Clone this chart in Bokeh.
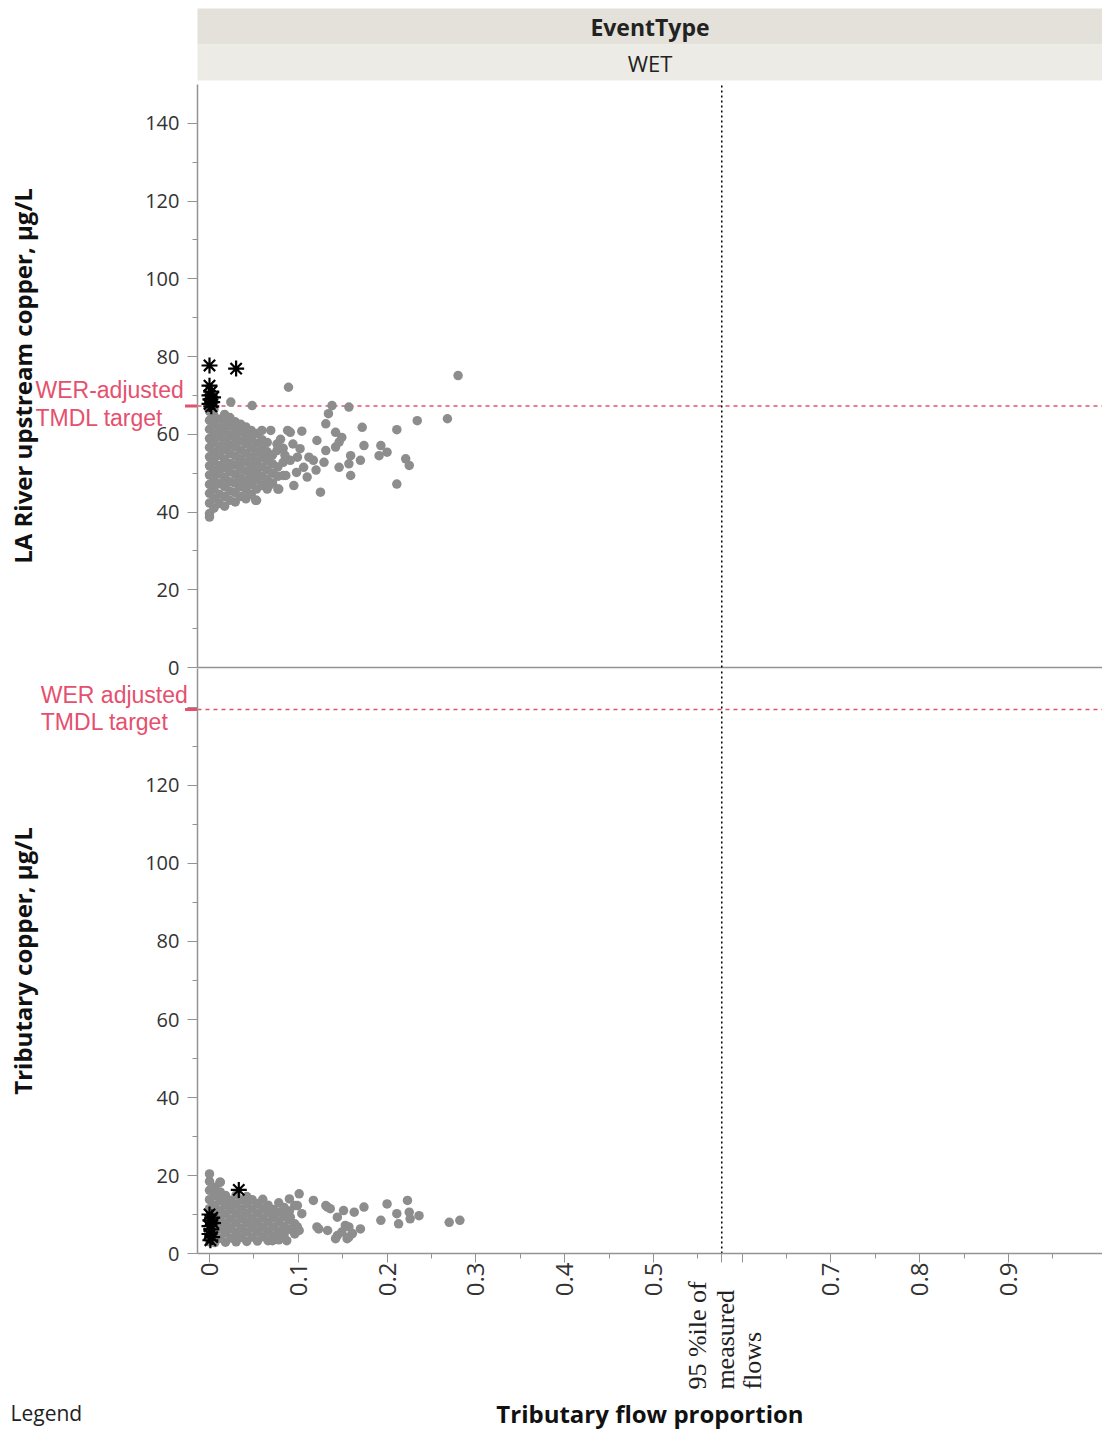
import math
from bokeh.plotting import figure
from bokeh.models import FixedTicker, LinearAxis, Range1d
from bokeh.core.properties import value
from bokeh.embed import file_html
from bokeh.resources import INLINE

# ---------------------------------------------------------------- data
header_title = "EventType"
header_level = "WET"

upper_axis_title = "LA River upstream copper, µg/L"
lower_axis_title = "Tributary copper, µg/L"
x_axis_title = "Tributary flow proportion"
target_upper_text = ["WER-adjusted", "TMDL target"]
target_lower_text = ["WER adjusted", "TMDL target"]
p95_text = ["95 %ile of", "measured", "flows"]
legend_text = "Legend"

upper_target = 67.3      # WER-adjusted TMDL target, LA River panel
lower_target = 139.5     # WER adjusted TMDL target, tributary panel
flow_p95 = 0.577         # 95th percentile of measured flows

x_tick_values = [0.0, 0.1, 0.2, 0.3, 0.4, 0.5, 0.6, 0.7, 0.8, 0.9]
x_tick_labels = ["0", "0.1", "0.2", "0.3", "0.4", "0.5", "", "0.7", "0.8", "0.9"]
x_minor_ticks = [0.05, 0.15, 0.25, 0.35, 0.45, 0.55, 0.65, 0.75, 0.85, 0.95]
upper_y_ticks = [0, 20, 40, 60, 80, 100, 120, 140]
upper_y_minor = [10, 30, 50, 70, 90, 110, 130]
lower_y_ticks = [0, 20, 40, 60, 80, 100, 120, 140]
lower_y_labels = ["0", "20", "40", "60", "80", "100", "120", ""]
lower_y_minor = [10, 30, 50, 70, 90, 110, 130]

# LA River upstream copper vs tributary flow proportion (WET events)
upper_dot_x = [
    0.000, 0.000, 0.000, 0.000, 0.000, 0.000, 0.000, 0.000, 0.000, 0.000, 0.000, 0.000,
    0.005, 0.005, 0.005, 0.005, 0.005, 0.005, 0.005, 0.005, 0.005, 0.005, 0.005, 0.005,
    0.011, 0.011, 0.011, 0.011, 0.011, 0.011, 0.011, 0.011, 0.011, 0.011,
    0.017, 0.017, 0.017, 0.017, 0.017, 0.017, 0.017, 0.017, 0.017, 0.017, 0.017,
    0.023, 0.023, 0.023, 0.023, 0.023, 0.023, 0.023, 0.023, 0.023, 0.023, 0.024,
    0.029, 0.029, 0.029, 0.029, 0.029, 0.029, 0.029, 0.029, 0.029, 0.029,
    0.035, 0.035, 0.035, 0.035, 0.035, 0.035, 0.035, 0.035, 0.035,
    0.041, 0.041, 0.041, 0.041, 0.041, 0.041, 0.041, 0.041, 0.041,
    0.047, 0.047, 0.047, 0.047, 0.047, 0.047, 0.047, 0.047, 0.048,
    0.053, 0.053, 0.053, 0.053, 0.053, 0.053, 0.053, 0.053,
    0.059, 0.059, 0.059, 0.059, 0.059, 0.059, 0.059,
    0.065, 0.065, 0.065, 0.065, 0.065, 0.065,
    0.071, 0.071, 0.071, 0.071, 0.069,
    0.077, 0.077, 0.077, 0.076,
    0.083, 0.083, 0.083,
    0.280, 0.089, 0.138, 0.157, 0.134, 0.131, 0.234, 0.268, 0.104, 0.172,
    0.211, 0.091, 0.121, 0.142, 0.149, 0.146, 0.142, 0.131, 0.174, 0.193,
    0.200, 0.191, 0.221, 0.225, 0.102, 0.099, 0.112, 0.117, 0.106, 0.129,
    0.159, 0.157, 0.170, 0.146, 0.159, 0.091, 0.095, 0.125, 0.211, 0.078,
    0.086, 0.052, 0.088, 0.080, 0.094, 0.085, 0.098, 0.110, 0.120, 0.067,
    0.076, 0.000,
]
upper_dot_y = [
    39.6, 42.3, 44.8, 47.1, 49.5, 51.9, 54.2, 56.6, 58.9, 61.3, 63.6, 65.9,
    41.0, 43.5, 46.0, 48.4, 50.7, 53.1, 55.4, 57.8, 60.1, 62.5, 64.8, 66.4,
    42.2, 44.6, 47.3, 49.8, 52.0, 54.6, 56.9, 59.3, 61.5, 63.9,
    41.5, 44.0, 46.5, 48.9, 51.3, 53.6, 56.0, 58.4, 60.8, 63.0, 65.1,
    43.0, 45.4, 47.8, 50.3, 52.5, 55.0, 57.3, 59.7, 62.1, 64.3, 68.3,
    42.6, 45.0, 47.4, 49.7, 52.1, 54.4, 56.8, 59.1, 61.4, 63.2,
    44.0, 46.5, 48.8, 51.2, 53.5, 55.9, 58.3, 60.6, 62.6,
    43.4, 45.8, 48.1, 50.5, 52.9, 55.2, 57.6, 59.9, 61.9,
    44.5, 47.0, 49.4, 51.7, 54.1, 56.5, 58.8, 61.0, 67.4,
    43.0, 45.9, 48.3, 50.6, 53.0, 55.4, 57.7, 60.2,
    46.8, 49.2, 51.6, 54.0, 56.3, 58.6, 61.0,
    45.9, 48.4, 50.8, 53.2, 55.5, 57.9,
    47.5, 50.0, 52.4, 54.7, 61.0,
    45.9, 49.2, 51.6, 55.8,
    49.4, 52.8, 56.4,
    75.1, 72.1, 67.4, 67.0, 65.3, 62.7, 63.5, 64.0, 60.8, 61.8,
    61.2, 60.5, 58.4, 60.5, 59.2, 58.0, 56.7, 55.8, 57.1, 57.1,
    55.4, 54.5, 53.7, 52.0, 56.3, 54.1, 54.1, 53.3, 51.5, 52.8,
    54.5, 52.4, 53.3, 51.5, 49.4, 53.3, 46.8, 45.1, 47.2, 45.9,
    49.4, 43.0, 61.0, 58.7, 57.5, 54.6, 50.2, 49.0, 50.8, 46.8,
    57.5, 38.7,
]
upper_star_x = [0.000, 0.030, 0.000, 0.002, 0.000, 0.004, 0.001, 0.003, 0.000, 0.002]
upper_star_y = [77.7, 76.9, 72.5, 71.0, 70.0, 69.5, 69.0, 68.3, 67.8, 67.2]

# Tributary copper vs tributary flow proportion (WET events)
lower_dot_x = [
    0.000, 0.000, 0.000, 0.000, 0.000, 0.000, 0.000, 0.000,
    0.006, 0.006, 0.006, 0.006, 0.006, 0.006, 0.006,
    0.012, 0.012, 0.012, 0.012, 0.012, 0.012, 0.012,
    0.018, 0.018, 0.018, 0.018, 0.018, 0.018,
    0.024, 0.024, 0.024, 0.024, 0.024,
    0.030, 0.030, 0.030, 0.030, 0.030, 0.030,
    0.036, 0.036, 0.036, 0.036, 0.036,
    0.042, 0.042, 0.042, 0.042, 0.042, 0.042,
    0.048, 0.048, 0.048, 0.048, 0.048,
    0.054, 0.054, 0.054, 0.054, 0.054,
    0.060, 0.060, 0.060, 0.060, 0.060,
    0.066, 0.066, 0.066, 0.066, 0.066,
    0.072, 0.072, 0.072, 0.072,
    0.078, 0.078, 0.078, 0.078, 0.078,
    0.084, 0.084, 0.084, 0.084,
    0.090, 0.090, 0.090, 0.090,
    0.096, 0.096, 0.096,
    0.012, 0.101, 0.117, 0.133, 0.151, 0.163, 0.174, 0.200, 0.223, 0.225,
    0.211, 0.236, 0.193, 0.213, 0.270, 0.282, 0.144, 0.153, 0.123, 0.133,
    0.144, 0.157, 0.170, 0.101, 0.087, 0.071, 0.099, 0.131, 0.136, 0.226,
    0.149, 0.157, 0.161, 0.142, 0.155, 0.104, 0.121, 0.091, 0.099,
]
lower_dot_y = [
    3.0, 5.5, 8.0, 11.5, 13.8, 16.2, 18.5, 20.4,
    2.8, 5.2, 7.6, 10.0, 12.4, 14.8, 17.0,
    3.9, 6.3, 8.7, 11.1, 13.5, 15.8, 18.3,
    2.9, 5.3, 7.7, 10.1, 12.5, 14.9,
    4.0, 6.4, 8.8, 11.2, 13.6,
    3.0, 5.4, 7.8, 10.2, 12.6, 15.0,
    4.1, 6.5, 8.9, 11.3, 13.7,
    3.1, 5.5, 7.9, 10.3, 12.7, 14.6,
    4.2, 6.6, 9.0, 11.4, 13.8,
    3.2, 5.6, 8.0, 10.4, 12.8,
    4.3, 6.7, 9.1, 11.5, 13.9,
    3.3, 5.7, 8.1, 10.5, 12.4,
    4.4, 6.8, 9.2, 11.3,
    3.5, 5.8, 8.2, 10.6, 13.0,
    4.8, 7.0, 9.4, 11.8,
    6.2, 8.6, 10.9, 14.0,
    5.0, 7.6, 12.3,
    18.3, 15.3, 13.6, 11.9, 11.0, 10.6, 11.9, 12.7, 13.6, 10.6,
    10.2, 9.7, 8.5, 7.6, 8.0, 8.5, 9.3, 7.2, 6.3, 5.9,
    4.6, 4.2, 6.3, 5.9, 3.3, 3.3, 12.3, 12.3, 11.5, 8.9,
    5.5, 6.8, 5.1, 3.8, 3.8, 10.2, 6.8, 9.3, 6.8,
]
lower_star_x = [0.033, 0.000, 0.003, 0.001, 0.004, 0.000, 0.002, 0.000, 0.003, 0.001]
lower_star_y = [16.3, 10.0, 9.2, 8.5, 7.8, 7.0, 6.2, 5.0, 4.2, 3.4]

# ---------------------------------------------------------------- layout constants
PAGE_W, PAGE_H = 1102, 1431
DOT = "#8d8d8d"
RED = "#e5506e"
AXIS = "#939393"
INK = "#222222"
SANS = "Open Sans"

X0, X1 = -0.01352, 1.00586          # extent of the plotting axes
XL = -0.23541                        # left page edge in x units

# One frame covers the whole page; the upper panel uses the default y range,
# the lower panel the "lower" range.
p = figure(frame_width=PAGE_W, frame_height=PAGE_H,
           x_range=Range1d(XL, X1), y_range=Range1d(-196.55, 171.60),
           min_border_left=0, min_border_right=0,
           min_border_top=0, min_border_bottom=0,
           x_axis_location=None, y_axis_location=None,
           toolbar_location=None, output_backend="svg",
           outline_line_color=None, background_fill_color="white")
p.extra_y_ranges = {"lower": Range1d(-45.64, 321.28)}
p.xgrid.visible = False
p.ygrid.visible = False

# ---------------------------------------------------------------- header strip
p.quad(left=[X0], right=[X1], bottom=[160.28], top=[169.54],
       fill_color="#e3e1d9", line_color=None)
p.quad(left=[X0], right=[X1], bottom=[151.02], top=[160.28],
       fill_color="#ecebe5", line_color=None)
p.text(x=[(X0 + X1) / 2], y=[164.9], text=[header_title], text_align="center",
       text_baseline="middle", text_font=value(SANS),
       text_font_style="bold", text_font_size="23px", text_color=INK)
p.text(x=[(X0 + X1) / 2], y=[155.6], text=[header_level], text_align="center",
       text_baseline="middle", text_font=value(SANS),
       text_font_size="22px", text_color=INK)


# ---------------------------------------------------------------- axes
def y_axis(ticks, minor, range_name, labels=None):
    ax = LinearAxis(fixed_location=X0, y_range_name=range_name, bounds=(0, 150),
                    ticker=FixedTicker(ticks=ticks, minor_ticks=minor))
    if labels is not None:
        ax.major_label_overrides = {t: s for t, s in zip(ticks, labels)}
    ax.major_label_text_font = SANS
    ax.major_label_text_font_size = "20px"
    ax.major_label_text_color = "#333333"
    ax.major_label_standoff = 8
    ax.major_tick_in = 0
    ax.major_tick_out = 10
    ax.minor_tick_in = 0
    ax.minor_tick_out = 5
    ax.major_tick_line_color = AXIS
    ax.minor_tick_line_color = AXIS
    ax.axis_line_color = AXIS
    ax.axis_line_width = 1.5
    p.add_layout(ax, "left")


y_axis(upper_y_ticks, upper_y_minor, "default")
y_axis(lower_y_ticks, lower_y_minor, "lower", lower_y_labels)

xa = LinearAxis(fixed_location=0, y_range_name="lower", bounds=(X0, X1),
                ticker=FixedTicker(ticks=x_tick_values + [flow_p95],
                                   minor_ticks=x_minor_ticks))
overrides = {t: s for t, s in zip(x_tick_values, x_tick_labels)}
overrides[flow_p95] = ""
xa.major_label_overrides = overrides
xa.major_label_orientation = math.pi / 2
xa.major_label_text_font = SANS
xa.major_label_text_font_size = "24px"
xa.major_label_text_color = "#333333"
xa.major_label_standoff = 0
xa.major_tick_in = 0
xa.major_tick_out = 9
xa.minor_tick_in = 0
xa.minor_tick_out = 5
xa.major_tick_line_color = AXIS
xa.minor_tick_line_color = AXIS
xa.axis_line_color = AXIS
xa.axis_line_width = 1.5
p.add_layout(xa, "below")

# panel separator (upper panel's zero line)
p.ray(x=[X0], y=[0], length=0, angle=0, line_color=AXIS, line_width=1.5)

# TMDL target lines with their axis marks
p.ray(x=[X0], y=[upper_target], length=0, angle=0, line_color=RED,
      line_dash="4 4", line_width=1.5)
p.ray(x=[X0], y=[lower_target], length=0, angle=0, line_color=RED,
      line_dash="4 4", line_width=1.5, y_range_name="lower")
p.segment(x0=[X0 - 0.014], x1=[X0], y0=[upper_target], y1=[upper_target],
          line_color=RED, line_width=3)
p.segment(x0=[X0 - 0.014], x1=[X0], y0=[lower_target], y1=[lower_target],
          line_color=RED, line_width=3, y_range_name="lower")

# 95th percentile flow marker through both panels
p.segment(x0=[flow_p95], x1=[flow_p95], y0=[0], y1=[150], line_color="black",
          line_dash="2 3", line_width=1.5)
p.segment(x0=[flow_p95], x1=[flow_p95], y0=[0], y1=[150], line_color="black",
          line_dash="2 3", line_width=1.5, y_range_name="lower")

# observations
p.scatter(upper_dot_x, upper_dot_y, size=9.5, fill_color=DOT, line_color=None)
p.scatter(upper_star_x, upper_star_y, marker="asterisk", size=16,
          line_color="black", line_width=2.2)
p.scatter(lower_dot_x, lower_dot_y, size=9.5, fill_color=DOT, line_color=None,
          y_range_name="lower")
p.scatter(lower_star_x, lower_star_y, marker="asterisk", size=16,
          line_color="black", line_width=2.2, y_range_name="lower")

# axis titles
p.text(x=[-0.2106], y=[75], text=[upper_axis_title], angle=math.pi / 2,
       text_align="center", text_baseline="middle", text_font=value(SANS),
       text_font_style="bold", text_font_size="24px", text_color="#111111")
p.text(x=[-0.2106], y=[75], text=[lower_axis_title], angle=math.pi / 2,
       text_align="center", text_baseline="middle", text_font=value(SANS),
       text_font_style="bold", text_font_size="24px", text_color="#111111",
       y_range_name="lower")
p.text(x=[(X0 + X1) / 2], y=[-41.0], text=[x_axis_title], text_align="center",
       text_baseline="middle", text_font=value(SANS), text_font_style="bold",
       text_font_size="24px", text_color="#111111", y_range_name="lower")

# target annotations
p.text(x=[-0.196, -0.196], y=[71.3, 64.3], text=target_upper_text,
       text_align="left", text_baseline="middle",
       text_font=value("Liberation Sans"), text_font_size="23px", text_color=RED)
p.text(x=[-0.190, -0.190], y=[143.1, 136.2], text=target_lower_text,
       text_align="left", text_baseline="middle",
       text_font=value("Liberation Sans"), text_font_size="23px", text_color=RED,
       y_range_name="lower")

# 95th percentile tick caption
p.text(x=[0.5497, 0.5812, 0.6116], y=[-34.9, -34.9, -34.9], text=p95_text,
       angle=math.pi / 2, text_align="left", text_baseline="middle",
       text_font=value("Liberation Serif"), text_font_size="26px",
       text_color=INK, y_range_name="lower")

p.text(x=[-0.2241], y=[-41.0], text=[legend_text], text_align="left",
       text_baseline="middle", text_font=value(SANS), text_font_size="21px",
       text_color=INK, y_range_name="lower")

open("out.html", "w").write(file_html(p, INLINE))
